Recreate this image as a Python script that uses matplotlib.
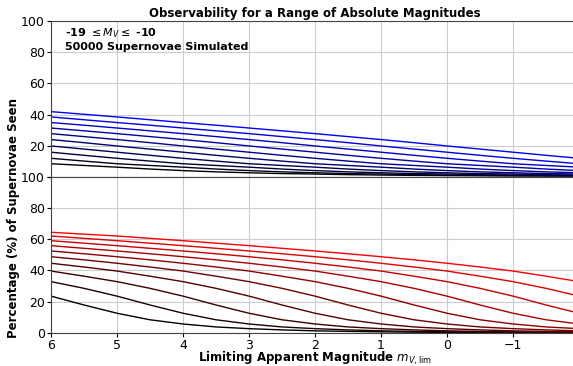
import matplotlib
matplotlib.use('Agg')
import matplotlib.pyplot as plt

# limiting apparent magnitude (x axis), bright end on the right
mag_lim = [6, 5.5, 5, 4.5, 4, 3.5, 3, 2.5, 2, 1.5, 1, 0.5, 0, -0.5, -1, -1.5, -2]
abs_mags = [-10, -11, -12, -13, -14, -15, -16, -17, -18, -19]

# upper panel, % seen (black -> blue)
top_m10 = [8.5, 7.4, 6.3, 5.1, 4.1, 3.3, 2.7, 2.2, 1.9, 1.5, 1.25, 1.05, 0.9, 0.8, 0.7, 0.65, 0.6]
top_m11 = [12.0, 10.2, 8.5, 7.4, 6.3, 5.1, 4.1, 3.3, 2.7, 2.2, 1.9, 1.5, 1.25, 1.05, 0.9, 0.8, 0.7]
top_m12 = [15.9, 13.9, 12.0, 10.2, 8.5, 7.4, 6.3, 5.1, 4.1, 3.3, 2.7, 2.2, 1.9, 1.5, 1.25, 1.05, 0.9]
top_m13 = [19.9, 17.9, 15.9, 13.9, 12.0, 10.2, 8.5, 7.4, 6.3, 5.1, 4.1, 3.3, 2.7, 2.2, 1.9, 1.5, 1.25]
top_m14 = [24.0, 22.0, 19.9, 17.9, 15.9, 13.9, 12.0, 10.2, 8.5, 7.4, 6.3, 5.1, 4.1, 3.3, 2.7, 2.2, 1.9]
top_m15 = [27.8, 25.9, 24.0, 22.0, 19.9, 17.9, 15.9, 13.9, 12.0, 10.2, 8.5, 7.4, 6.3, 5.1, 4.1, 3.3, 2.7]
top_m16 = [31.4, 29.6, 27.8, 25.9, 24.0, 22.0, 19.9, 17.9, 15.9, 13.9, 12.0, 10.2, 8.5, 7.4, 6.3, 5.1, 4.1]
top_m17 = [34.9, 33.2, 31.4, 29.6, 27.8, 25.9, 24.0, 22.0, 19.9, 17.9, 15.9, 13.9, 12.0, 10.2, 8.5, 7.4, 6.3]
top_m18 = [38.5, 36.7, 34.9, 33.2, 31.4, 29.6, 27.8, 25.9, 24.0, 22.0, 19.9, 17.9, 15.9, 13.9, 12.0, 10.2, 8.5]
top_m19 = [41.9, 40.2, 38.5, 36.7, 34.9, 33.2, 31.4, 29.6, 27.8, 25.9, 24.0, 22.0, 19.9, 17.9, 15.9, 13.9, 12.0]

# lower panel, % seen (black -> red)
bot_m10 = [23.5, 17.8, 12.5, 8.3, 5.6, 3.7, 2.6, 1.8, 1.2, 0.85, 0.55, 0.35, 0.2, 0.15, 0.1, 0.07, 0.05]
bot_m11 = [32.8, 28.5, 23.5, 17.8, 12.5, 8.3, 5.6, 3.7, 2.6, 1.8, 1.2, 0.85, 0.55, 0.35, 0.2, 0.15, 0.1]
bot_m12 = [39.6, 36.3, 32.8, 28.5, 23.5, 17.8, 12.5, 8.3, 5.6, 3.7, 2.6, 1.8, 1.2, 0.85, 0.55, 0.35, 0.2]
bot_m13 = [44.6, 42.2, 39.6, 36.3, 32.8, 28.5, 23.5, 17.8, 12.5, 8.3, 5.6, 3.7, 2.6, 1.8, 1.2, 0.85, 0.55]
bot_m14 = [48.8, 46.8, 44.6, 42.2, 39.6, 36.3, 32.8, 28.5, 23.5, 17.8, 12.5, 8.3, 5.6, 3.7, 2.6, 1.8, 1.2]
bot_m15 = [52.5, 50.7, 48.8, 46.8, 44.6, 42.2, 39.6, 36.3, 32.8, 28.5, 23.5, 17.8, 12.5, 8.3, 5.6, 3.7, 2.6]
bot_m16 = [55.9, 54.2, 52.5, 50.7, 48.8, 46.8, 44.6, 42.2, 39.6, 36.3, 32.8, 28.5, 23.5, 17.8, 12.5, 8.3, 5.6]
bot_m17 = [59.1, 57.5, 55.9, 54.2, 52.5, 50.7, 48.8, 46.8, 44.6, 42.2, 39.6, 36.3, 32.8, 28.5, 23.5, 17.8, 12.5]
bot_m18 = [62.1, 60.6, 59.1, 57.5, 55.9, 54.2, 52.5, 50.7, 48.8, 46.8, 44.6, 42.2, 39.6, 36.3, 32.8, 28.5, 23.5]
bot_m19 = [64.5, 63.3, 62.1, 60.6, 59.1, 57.5, 55.9, 54.2, 52.5, 50.7, 48.8, 46.8, 44.6, 42.2, 39.6, 36.3, 32.8]

top_lines = [top_m10, top_m11, top_m12, top_m13, top_m14,
             top_m15, top_m16, top_m17, top_m18, top_m19]
bot_lines = [bot_m10, bot_m11, bot_m12, bot_m13, bot_m14,
             bot_m15, bot_m16, bot_m17, bot_m18, bot_m19]

fig = plt.figure(figsize=(5.73, 3.66), dpi=100)
ax1 = fig.add_axes([51 / 573, 1 - 177 / 366, 528 / 573, 156 / 366])
ax2 = fig.add_axes([51 / 573, 1 - 332.7 / 366, 528 / 573, 155.7 / 366], sharex=ax1)

n = len(abs_mags)
for i in range(n):
    f = i / (n - 1)
    ax1.plot(mag_lim, top_lines[i], '-', color=(0, 0, f), lw=1)
    ax2.plot(mag_lim, bot_lines[i], '-', color=(f, 0, 0), lw=1)

for ax in (ax1, ax2):
    ax.set_xlim(6, -2)
    ax.set_ylim(0, 100)
    ax.grid(True, color='#cccccc', lw=0.8)
    ax.set_axisbelow(True)
    ax.tick_params(labelsize=9, length=3, pad=1.5)
    for s in ax.spines.values():
        s.set_color('#444444')
    ax.spines['right'].set_visible(False)

ax1.set_yticks([0, 20, 40, 60, 80, 100])
ax1.set_yticklabels(['', '20', '40', '60', '80', '100'])
ax2.set_yticks([0, 20, 40, 60, 80, 100])
ax2.set_xticks([6, 5, 4, 3, 2, 1, 0, -1])
ax1.tick_params(labelbottom=False)

ax1.set_title('Observability for a Range of Absolute Magnitudes',
              fontsize=8.5, fontweight='bold', pad=3)
ax1.text(0.027, 0.923, r'-19 $\leq M_V \leq$ -10', transform=ax1.transAxes,
         fontsize=8, fontweight='bold', va='center')
ax1.text(0.027, 0.833, '50000 Supernovae Simulated', transform=ax1.transAxes,
         fontsize=8, fontweight='bold', va='center')
fig.text(315 / 573, 1 - 362 / 366, r'Limiting Apparent Magnitude $m_{V,\rm lim}$',
         fontsize=8.5, fontweight='bold', ha='center', va='baseline')
fig.text(14 / 573, 1 - 218 / 366, 'Percentage (%) of Supernovae Seen',
         rotation=90, fontsize=8.5, fontweight='bold', ha='center', va='center')

fig.savefig('out.png', dpi=100)
